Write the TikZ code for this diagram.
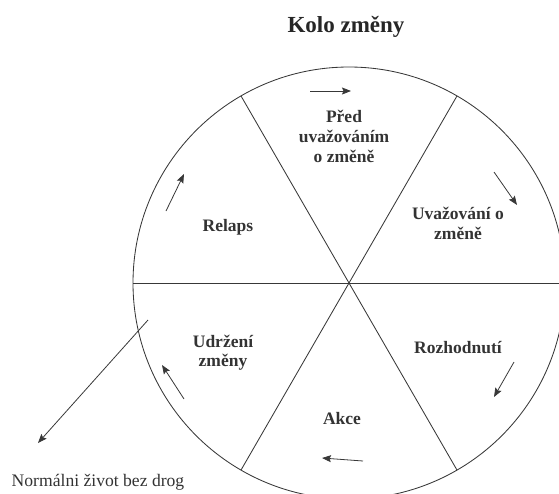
\documentclass[tikz,border=0pt]{standalone}
\usepackage{fontspec}
\setmainfont{Liberation Serif}
\usetikzlibrary{arrows.meta}
\begin{document}
\begin{tikzpicture}[x=1pt,y=-1pt,
  wheel/.style={draw=black!78,line width=0.85pt},
  lab/.style={font=\bfseries\fontsize{17.5}{19.8}\selectfont,text=black!80,align=center,inner sep=0pt},
  ttl/.style={font=\bfseries\fontsize{23}{27}\selectfont,text=black!85,inner sep=0pt},
  plain/.style={font=\fontsize{17.6}{20}\selectfont,text=black!80,inner sep=0pt},
  flow/.style={draw=black!78,line width=0.8pt,-{Stealth[length=9pt,width=7pt,inset=1.5pt]}}]
\useasboundingbox (0,0) rectangle (559,493);
\clip (0,0) rectangle (559,493);
\coordinate (C) at (349,283);
\draw[wheel] (C) circle[radius=216];
\foreach \a in {0,60,120}
  \draw[wheel] ([shift={(\a:216)}]C) -- ([shift={(\a+180:216)}]C);
% texts
\node[ttl,anchor=base] (title) at (346,32) {Kolo změny};
\node[lab] (pred) at (344,136.5) {Před\\uvažováním\\o změně};
\node[lab,anchor=base] (relaps) at (228,231.7) {Relaps};
\node[lab] (uvaz) at (458,223.7) {Uvažování o\\změně};
\node[lab,anchor=base] (rozh) at (458,353) {Rozhodnutí};
\node[lab,anchor=base] (akce) at (342,424) {Akce};
\node[lab] (udrz) at (223,352.7) {Udržení\\změny};
\node[plain,anchor=base] (norm) at (98,486.7) {Normálni život bez drog};
% arrows
\coordinate (a1s) at (310,91);  \coordinate (a1e) at (351,91);
\coordinate (a2s) at (494,172); \coordinate (a2e) at (517,205);
\coordinate (a3s) at (514,362); \coordinate (a3e) at (494,397);
\coordinate (a4s) at (363,461); \coordinate (a4e) at (322,458);
\coordinate (a5s) at (184,399); \coordinate (a5e) at (162,365);
\coordinate (a6s) at (166,211); \coordinate (a6e) at (184,174);
\coordinate (outs) at (148,320); \coordinate (oute) at (38,443);
\draw[flow] (a1s) -- (a1e);
\draw[flow] (a2s) -- (a2e);
\draw[flow] (a3s) -- (a3e);
\draw[flow] (a4s) -- (a4e);
\draw[flow] (a5s) -- (a5e);
\draw[flow] (a6s) -- (a6e);
\draw[flow] (outs) -- (oute);
\end{tikzpicture}
\end{document}
